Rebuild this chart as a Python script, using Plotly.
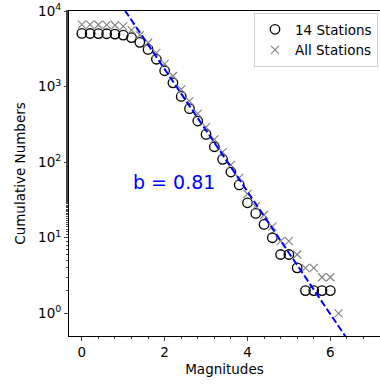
import plotly.graph_objects as go

# Magnitude bins
mags_14 = [0.0, 0.2, 0.4, 0.6, 0.8, 1.0, 1.2, 1.4, 1.6, 1.8, 2.0, 2.2, 2.4, 2.6, 2.8,
           3.0, 3.2, 3.4, 3.6, 3.8, 4.0, 4.2, 4.4, 4.6, 4.8, 5.0, 5.2, 5.4, 5.6, 5.8, 6.0]
counts_14 = [5050, 5040, 5030, 5000, 4950, 4800, 4450, 3850, 3100, 2300, 1620, 1120, 740, 510, 350,
             233, 160, 109, 74, 50, 29, 21, 15, 10, 6, 6, 4, 2, 2, 2, 2]

mags_all = [0.0, 0.2, 0.4, 0.6, 0.8, 1.0, 1.2, 1.4, 1.6, 1.8, 2.0, 2.2, 2.4, 2.6, 2.8,
            3.0, 3.2, 3.4, 3.6, 3.8, 4.0, 4.2, 4.4, 4.6, 4.8, 5.0, 5.2, 5.4, 5.6, 5.8, 6.0, 6.2]
counts_all = [6600, 6600, 6580, 6560, 6480, 6250, 5600, 4800, 3800, 2800, 2000, 1380, 920, 640, 440,
              290, 200, 136, 92, 62, 38, 26, 20, 14, 9, 9, 6, 4, 4, 3, 3, 1]

# Gutenberg-Richter fit
a_value = 4.85
b_value = 0.81
fit_mags = [0.5, 7.0]
fit_counts = [10 ** (a_value - b_value * m) for m in fit_mags]

xtick_vals = [0, 2, 4, 6]
ytick_vals = [1, 10, 100, 1000, 10000]
ytick_text = ["10<sup>0</sup>", "10<sup>1</sup>", "10<sup>2</sup>", "10<sup>3</sup>", "10<sup>4</sup>"]

FONT = "DejaVu Sans"

fig = go.Figure()
fig.add_trace(go.Scatter(
    x=mags_14, y=counts_14, mode="markers", name="14 Stations",
    marker=dict(symbol="circle-open", size=9.5, color="black", line=dict(width=1.3, color="black")),
))
fig.add_trace(go.Scatter(
    x=mags_all, y=counts_all, mode="markers", name="All Stations",
    marker=dict(symbol="x-thin", size=8, color="grey", line=dict(width=1.1, color="grey")),
))
fig.add_trace(go.Scatter(
    x=fit_mags, y=fit_counts, mode="lines", showlegend=False,
    line=dict(color="blue", width=2, dash="7px,3px"),
))

fig.add_annotation(
    x=2.22, y=1.74, xref="x", yref="y", text="b = 0.81", showarrow=False,
    font=dict(family=FONT, size=19, color="blue"),
)

fig.update_layout(
    width=380, height=384,
    margin=dict(l=69, r=0, t=11, b=48),
    paper_bgcolor="white", plot_bgcolor="white",
    font=dict(family=FONT, size=13, color="black"),
    legend=dict(
        x=1 - 2 / 311, y=1 - 2 / 325, xanchor="right", yanchor="top",
        bgcolor="rgba(255,255,255,0.8)", bordercolor="#d0d0d0", borderwidth=1,
        font=dict(family=FONT, size=13.5), itemwidth=30, tracegroupgap=2,
    ),
)
fig.update_xaxes(
    range=[-0.31, 7.2], tickvals=xtick_vals, ticks="outside", ticklen=4, tickwidth=1,
    showline=True, linecolor="black", linewidth=1, mirror=True, showgrid=False, zeroline=False,
    tickfont=dict(family=FONT, size=13.5),
    title=dict(text="Magnitudes", font=dict(family=FONT, size=13.5), standoff=5),
    minor=dict(dtick=0.4, tick0=0, ticks="outside", ticklen=2, tickwidth=0.8, showgrid=False),
)
fig.update_yaxes(
    type="log", range=[-0.30, 4.0], tickvals=ytick_vals, ticktext=ytick_text,
    ticks="outside", ticklen=4, tickwidth=1,
    showline=True, linecolor="black", linewidth=1, mirror=False, showgrid=False, zeroline=False,
    tickfont=dict(family=FONT, size=13.5),
    title=dict(text="Cumulative Numbers", font=dict(family=FONT, size=13.5), standoff=9),
    minor=dict(ticks="outside", ticklen=2, tickwidth=0.8, showgrid=False),
)

fig.write_html("out.html")
